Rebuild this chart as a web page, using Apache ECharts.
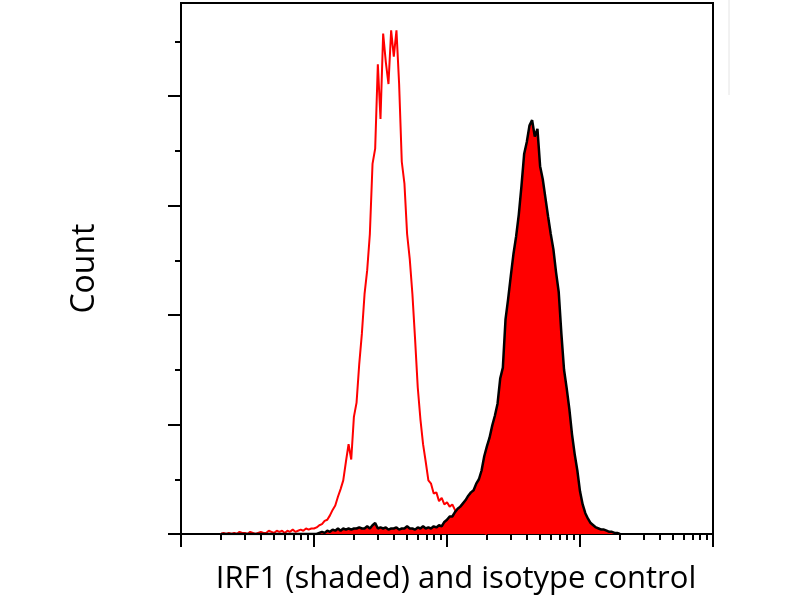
<!DOCTYPE html>
<html lang="en">
<head>
<meta charset="UTF-8">
<title>IRF1 (shaded) and isotype control</title>
<script src="https://cdn.jsdelivr.net/npm/echarts@6/dist/echarts.min.js"></script>
</head>
<body style="margin:0;background:#fff">
<div id="main" style="width:800px;height:600px;"></div>
<script>
// histogram bins on a log10 fluorescence scale (decades), 0.02 decade wide from 0.30
var binStart = 0.30;
var binStep = 0.02;

// isotype control (red outline)
var isotype = [
  0, 1, 0, 1, 0, 1, 0, 2, 1, 1,
  0, 2, 1, 0, 1, 2, 1, 1, 3, 2,
  1, 3, 2, 3, 1, 3, 2, 4, 2, 3,
  4, 3, 5, 4, 5, 5, 6, 8, 9, 12,
  13, 17, 22, 26, 34, 41, 49, 66, 82, 68,
  107, 120, 155, 183, 219, 241, 274, 338, 352, 429,
  379, 457, 431, 411, 460, 436, 460, 411, 340, 320,
  274, 251, 219, 178, 134, 105, 82, 66, 49, 46,
  37, 38, 30, 33, 27, 29, 25, 27, 22, 18,
  11, 7, 5, 4, 3, 2, 2, 1, 1, 1,
  0
];

// IRF1 stained sample (red filled, black outline)
var irf1 = [
  0, 0, 0, 0, 0, 0, 0, 0, 0, 0,
  0, 0, 0, 0, 0, 0, 0, 0, 0, 0,
  0, 0, 0, 0, 0, 0, 0, 0, 0, 0,
  0, 0, 0, 0, 0, 0, 0, 1, 2, 1,
  3, 2, 4, 3, 5, 3, 5, 4, 5, 4,
  5, 5, 6, 5, 5, 7, 5, 8, 10, 5,
  6, 5, 6, 4, 5, 5, 6, 4, 5, 5,
  7, 5, 5, 4, 6, 5, 7, 5, 6, 5,
  7, 6, 8, 7, 11, 13, 16, 16, 20, 23,
  25, 28, 31, 35, 38, 40, 46, 50, 58, 71,
  80, 88, 99, 108, 119, 142, 152, 196, 215, 236,
  256, 272, 292, 318, 347, 358, 373, 378, 363, 370,
  336, 324, 307, 290, 274, 260, 239, 221, 183, 150,
  133, 114, 91, 73, 58, 39, 27, 19, 14, 10,
  8, 6, 5, 4, 4, 3, 2, 2, 1, 1,
  0
];

var xMajor = [0, 1, 2, 3, 4];
var yMajor = [0, 100, 200, 300, 400];
var yMinor = [50, 150, 250, 350, 450];

// 2..9 inside every decade
var xMinor = [];
for (var d = 0; d < 4; d++) {
  for (var k = 2; k <= 9; k++) xMinor.push(d + Math.log10(k));
}

function toPoints(counts) {
  var pts = [];
  for (var i = 0; i < counts.length; i++) {
    pts.push([+(binStart + i * binStep).toFixed(2), counts[i]]);
  }
  return pts;
}

var myChart = echarts.init(document.getElementById('main'));

var baseAxis = {
  min: 0,
  axisLine: { lineStyle: { color: '#000', width: 2 } },
  axisLabel: { show: false },
  splitLine: { show: false }
};

var option = {
  backgroundColor: '#fff',
  animation: false,
  grid: {
    left: 181, right: 87, top: 3, bottom: 66,
    show: true, borderColor: '#000', borderWidth: 2
  },
  xAxis: [
    Object.assign({}, baseAxis, {
      type: 'value', max: 4, position: 'bottom',
      axisTick: { customValues: xMajor, length: 13, lineStyle: { color: '#000', width: 2 } },
      name: 'IRF1 (shaded) and isotype control',
      nameLocation: 'middle',
      nameGap: 30,
      nameTextStyle: { fontFamily: 'Open Sans', fontSize: 31, color: '#000', padding: [0, 0, 0, 18] }
    }),
    Object.assign({}, baseAxis, {
      type: 'value', max: 4, position: 'bottom',
      axisLine: { show: false },
      axisTick: { customValues: xMinor, length: 6, lineStyle: { color: '#000', width: 2 } }
    })
  ],
  yAxis: [
    Object.assign({}, baseAxis, {
      type: 'value', max: 485, position: 'left',
      axisTick: { customValues: yMajor, length: 13, lineStyle: { color: '#000', width: 2 } },
      name: 'Count',
      nameLocation: 'middle',
      nameRotate: 90,
      nameGap: 80,
      nameTextStyle: { fontFamily: 'Open Sans', fontSize: 32, color: '#000' }
    }),
    Object.assign({}, baseAxis, {
      type: 'value', max: 485, position: 'left',
      axisLine: { show: false },
      axisTick: { customValues: yMinor, length: 6, lineStyle: { color: '#000', width: 2 } }
    })
  ],
  graphic: [{
    type: 'line',
    shape: { x1: 729, y1: 0, x2: 729, y2: 95 },
    style: { stroke: '#e4e4e4', lineWidth: 1 },
    silent: true
  }],
  series: [
    {
      name: 'Isotype control',
      type: 'line',
      data: toPoints(isotype),
      showSymbol: false,
      lineStyle: { color: '#ff0000', width: 2 },
      itemStyle: { color: '#ff0000' },
      z: 2
    },
    {
      name: 'IRF1',
      type: 'line',
      data: toPoints(irf1),
      showSymbol: false,
      lineStyle: { color: '#000', width: 2.5 },
      itemStyle: { color: '#000' },
      areaStyle: { color: '#ff0000', opacity: 1 },
      z: 3
    }
  ]
};
myChart.setOption(option);
</script>
</body>
</html>
